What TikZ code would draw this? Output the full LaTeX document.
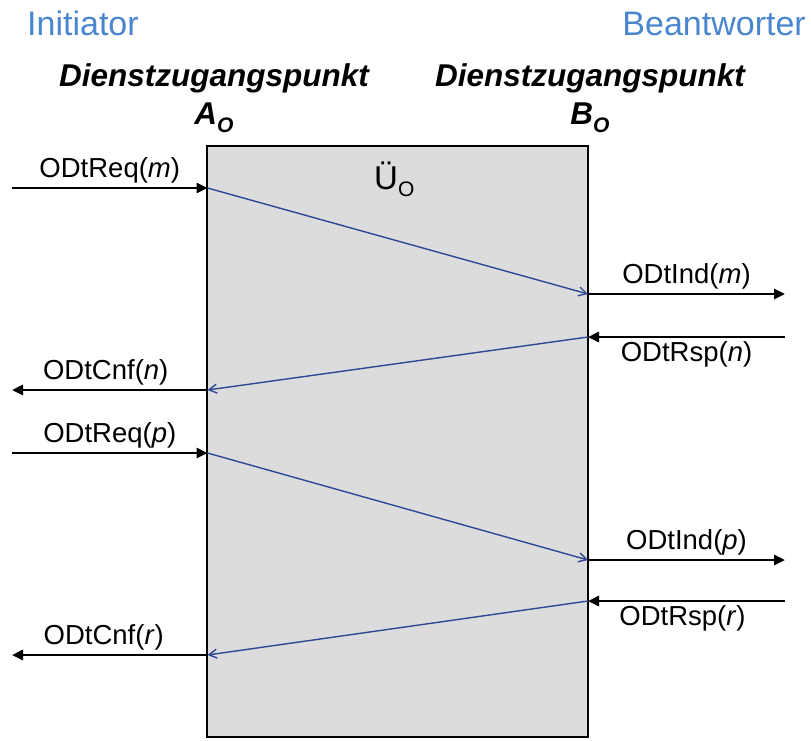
\documentclass[tikz,border=0pt]{standalone}
\usepackage{fontspec}
\setmainfont{Liberation Sans}
\usepackage{tikz}
\usetikzlibrary{arrows.meta, positioning}
\usepackage{xcolor}
\definecolor{rolecol}{RGB}{74,134,208}
\definecolor{msgcol}{RGB}{46,72,150}
\definecolor{boxcol}{RGB}{220,220,220}

\begin{document}
\begin{tikzpicture}[x=1pt,y=-1pt,font=\fontsize{27.5}{33}\selectfont]
    \tikzstyle{prim}=[draw,black,line width=2.6pt,-{Triangle[length=11pt,width=10pt]}]
    \tikzstyle{msg}=[draw,msgcol,line width=1.4pt,-{Straight Barb[length=8pt,width=9pt]}]
    \tikzstyle{role}=[inner sep=0pt,text=rolecol,font=\fontsize{34}{40}\selectfont]
    \tikzstyle{sap}=[inner sep=0pt,anchor=base,font=\fontsize{31.5}{36}\selectfont\bfseries\itshape]
    \tikzstyle{dienst}=[draw,fill=boxcol,line width=1.6pt,minimum width=381pt,minimum height=591pt,inner sep=0pt]

    \useasboundingbox (0,0) rectangle (811,740);

    \node[role,anchor=base west] (init) at (27,35) {Initiator};
    \node[role,anchor=base east] (beant) at (806,35) {Beantworter};

    \node[sap] (sapA) at (214,86) {Dienstzugangspunkt};
    \node[sap] (ptA) at (214,124) {A\raisebox{-8pt}{\fontsize{21}{24}\selectfont O}};
    \node[sap] (sapB) at (590,86) {Dienstzugangspunkt};
    \node[sap] (ptB) at (590,124) {B\raisebox{-8pt}{\fontsize{21}{24}\selectfont O}};

    \node[dienst] (U) at (397.75,441.5) {};
    \node[anchor=base west,inner sep=0pt] (ue) at (374,189)
        {\fontsize{33}{38}\selectfont Ü\raisebox{-7pt}{\fontsize{21}{24}\selectfont O}};

    % Dienstzugangspunkt A
    \coordinate (a1) at (207.5,188);
    \coordinate (a2) at (207.5,390);
    \coordinate (a3) at (207.5,453);
    \coordinate (a4) at (207.5,655);
    \coordinate (l1) at (12,188);
    \coordinate (l2) at (12,390);
    \coordinate (l3) at (12,453);
    \coordinate (l4) at (12,655);
    % Dienstzugangspunkt B
    \coordinate (b1) at (588,294);
    \coordinate (b2) at (588,337);
    \coordinate (b3) at (588,560);
    \coordinate (b4) at (588,601);
    \coordinate (r1) at (785,294);
    \coordinate (r2) at (785,337);
    \coordinate (r3) at (785,560);
    \coordinate (r4) at (785,601);

    \path
    (l1) edge[prim] node[above] {ODtReq(\textit{m})} (a1)
    (b1) edge[prim] node[above] {ODtInd(\textit{m})} (r1)
    (r2) edge[prim] node[below] {ODtRsp(\textit{n})} (b2)
    (a2) edge[prim] node[above,xshift=-4pt] {ODtCnf(\textit{n})} (l2)
    (l3) edge[prim] node[above] {ODtReq(\textit{p})} (a3)
    (b3) edge[prim] node[above] {ODtInd(\textit{p})} (r3)
    (r4) edge[prim] node[below,xshift=-4pt] {ODtRsp(\textit{r})} (b4)
    (a4) edge[prim] node[above,xshift=-6pt] {ODtCnf(\textit{r})} (l4)
   ;

    \path
    (a1) edge[msg] (b1)
    (b2) edge[msg] (a2)
    (a3) edge[msg] (b3)
    (b4) edge[msg] (a4)
   ;
\end{tikzpicture}
\end{document}
